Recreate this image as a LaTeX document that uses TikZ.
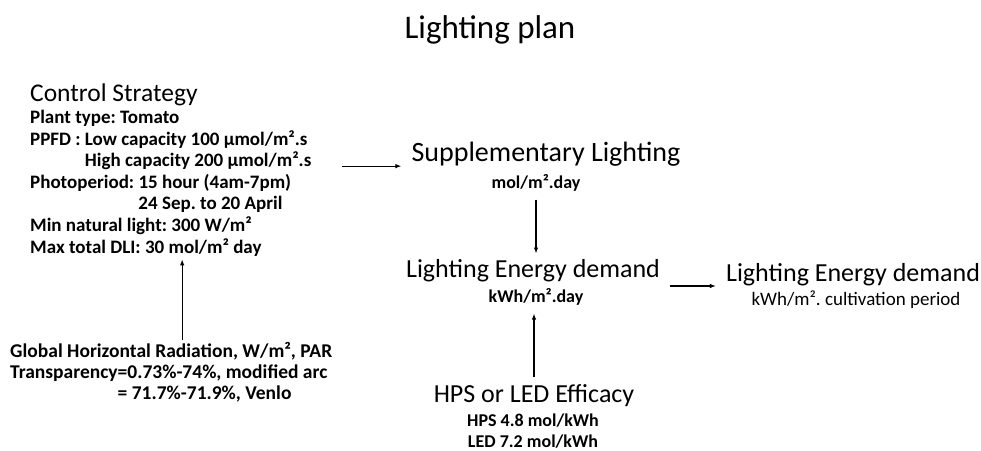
\documentclass[tikz,border=0pt]{standalone}
\usepackage{fontspec}
\setmainfont{Carlito}
\frenchspacing
\usetikzlibrary{arrows.meta}
\tikzset{
  heading/.style={inner sep=0pt, font=\fontsize{26}{28}\selectfont},
  unit/.style={inner sep=0pt, font=\bfseries\fontsize{18}{22}\selectfont},
  info/.style={inner sep=0pt, align=left, font=\bfseries\fontsize{19}{21.6}\selectfont},
  arr/.style={-{Latex[length=6pt,width=4.5pt]}, line width=1.1pt},
}
\begin{document}
\begin{tikzpicture}[x=1pt,y=-1pt]
\useasboundingbox (0,0) rectangle (981,450);
\node[inner sep=0pt, font=\fontsize{33}{35}\selectfont] (title) at (490,30) {Lighting plan};

% left side
\node[info, anchor=north west] (ctrl) at (30,84) {{\mdseries\fontsize{25.5}{26}\selectfont Control Strategy}\\
Plant type: Tomato\\
PPFD : Low capacity 100 µmol/m².s\\
\phantom{PPFD : }High capacity 200 µmol/m².s\\
Photoperiod: 15 hour (4am-7pm)\\
\phantom{Photoperiod: }24 Sep. to 20 April\\
Min natural light: 300 W/m²\\
Max total DLI: 30 mol/m² day};
\node[info, anchor=north west, font=\bfseries\fontsize{19.5}{21}\selectfont] (ghr) at (10,342) {Global Horizontal Radiation, W/m², PAR\\
Transparency=0.73\%-74\%, modified arc\\
\phantom{Transparency}= 71.7\%-71.9\%, Venlo};

% middle column
\node[heading, font=\fontsize{28}{30}\selectfont] (supp) at (546,154) {Supplementary Lighting};
\node[unit] (suppunit) at (536,183) {mol/m².day};
\node[heading] (demand) at (533,271) {Lighting Energy demand};
\node[unit] (demandunit) at (536,297) {kWh/m².day};
\node[heading] (eff) at (534,396) {HPS or LED Efficacy};
\node[unit, align=center, font=\bfseries\fontsize{18}{20.5}\selectfont] (effinfo) at (533,431) {HPS 4.8 mol/kWh\\LED 7.2 mol/kWh};

% right side
\node[heading] (total) at (853,275) {Lighting Energy demand};
\node[inner sep=0pt, font=\fontsize{19}{21}\selectfont] (totalunit) at (856,300) {kWh/m². cultivation period};

% arrows
\draw[arr, shorten <=30pt, shorten >=10pt] ([yshift=4pt]ctrl.east) -- ([yshift=4pt]ctrl.east -| supp.west);
\draw[arr, shorten <=8pt, shorten >=6pt] (suppunit.south) -- (suppunit.south |- demand.north);
\draw[arr, shorten <=8pt, shorten >=8pt] (eff.north) -- (eff.north |- demandunit.south);
\draw[arr, shorten <=10pt, shorten >=10pt] ([yshift=-15pt]demand.east) -- ([yshift=-15pt]demand.east -| total.west);
\draw[arr, shorten <=2pt, shorten >=3pt] ([xshift=11pt]ghr.north) -- ([xshift=11pt]ghr.north |- ctrl.south);
\end{tikzpicture}
\end{document}
